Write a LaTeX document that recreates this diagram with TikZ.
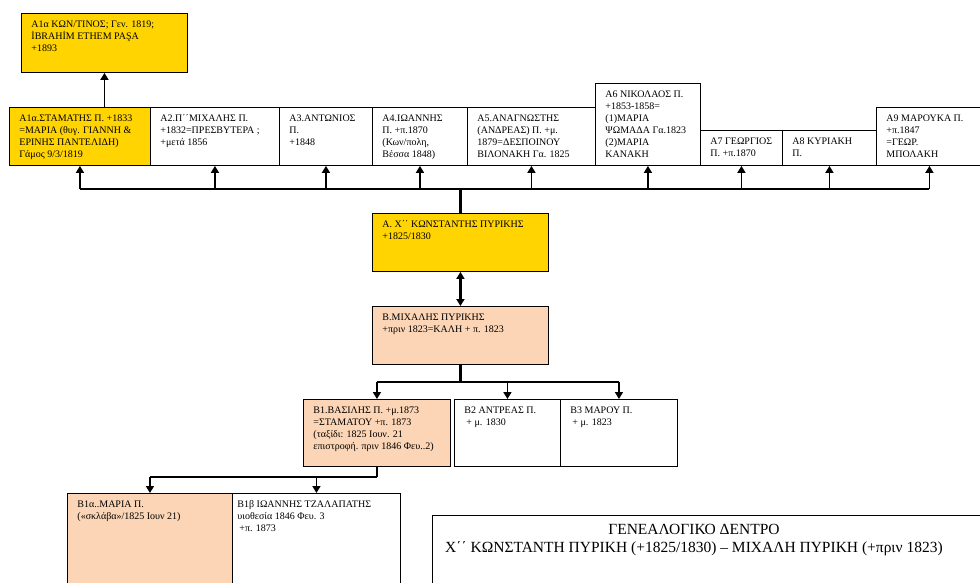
\documentclass[tikz,border=0pt]{standalone}
\usepackage{fontspec}
\setmainfont{Liberation Serif}
\usetikzlibrary{arrows.meta}

\definecolor{famgold}{RGB}{255,212,0}
\definecolor{fampeach}{RGB}{251,213,181}

% text of a box: [pad]{width}{height}{lines}
\newcommand{\famtext}[4][10]{\parbox[t][#3pt][t]{\dimexpr#2pt-#1pt-#1pt\relax}{\raggedright\rule{0pt}{14pt}#4}}

\begin{document}
\begin{tikzpicture}[x=1pt, y=-1pt,
	famcell/.style={draw, line width=0.9pt, inner xsep=10pt, inner ysep=0pt, anchor=north west, font=\fontsize{10}{12}\selectfont},
	gold/.style={fill=famgold},
	peach/.style={fill=fampeach},
	conn/.style={line width=1.6pt},
	stem/.style={line width=2.4pt},
	arr/.style={conn, -{Triangle[length=7pt,width=8pt]}},
	dbl/.style={stem, {Triangle[length=7pt,width=8pt]}-{Triangle[length=7pt,width=8pt]}}]

	\useasboundingbox (0,0) rectangle (980,583);
	\clip (0,0) rectangle (980,583);

	% Nodes
	\node[famcell, gold] (a1alpha) at (21,13) {\famtext{166}{59}{Α1α ΚΩΝ/ΤΙΝΟΣ; Γεν. 1819;\\ İBRAHİM ETHEM PAŞA\\ +1893}};

	\node[famcell, gold] (a1a) at (9,107) {\famtext{141}{58}{Α1α.ΣΤΑΜΑΤΗΣ Π. +1833\\ =ΜΑΡΙΑ (θυγ. ΓΙΑΝΝΗ \&\\ ΕΡΙΝΗΣ ΠΑΝΤΕΛΙΔΗ)\\ Γάμος 9/3/1819}};
	\node[famcell] (a2) at (150,107) {\famtext{129}{58}{Α2.Π΄΄ΜΙΧΑΛΗΣ Π.\\ +1832=ΠΡΕΣΒΥΤΕΡΑ ;\\ +μετά 1856}};
	\node[famcell] (a3) at (279,107) {\famtext{93}{58}{Α3.ΑΝΤΩΝΙΟΣ\\ Π.\\ +1848}};
	\node[famcell] (a4) at (372,107) {\famtext{95}{58}{Α4.ΙΩΑΝΝΗΣ\\ Π. +π.1870\\ (Κων/πολη,\\ Βέσσα 1848)}};
	\node[famcell] (a5) at (467,107) {\famtext{128}{58}{Α5.ΑΝΑΓΝΩΣΤΗΣ\\ (ΑΝΔΡΕΑΣ) Π. +μ.\\ 1879=ΔΕΣΠΟΙΝΟΥ\\ ΒΙΛΟΝΑΚΗ Γα. 1825}};
	\node[famcell] (a6) at (595,83) {\famtext{105}{82}{Α6 ΝΙΚΟΛΑΟΣ Π.\\ +1853-1858=\\ (1)ΜΑΡΙΑ\\ ΨΩΜΑΔΑ Γα.1823\\ (2)ΜΑΡΙΑ\\ ΚΑΝΑΚΗ}};
	\node[famcell] (a7) at (700,130) {\famtext{82}{35}{Α7 ΓΕΩΡΓΙΟΣ\\ Π. +π.1870}};
	\node[famcell] (a8) at (782,130) {\famtext{94}{35}{Α8 ΚΥΡΙΑΚΗ\\ Π.}};
	\node[famcell] (a9) at (876,107) {\famtext{106}{58}{Α9 ΜΑΡΟΥΚΑ Π.\\ +π.1847\\ =ΓΕΩΡ.\\ ΜΠΟΛΑΚΗ}};

	\node[famcell, gold] (a) at (372,213) {\famtext{176}{58}{Α. Χ΄΄ ΚΩΝΣΤΑΝΤΗΣ ΠΥΡΙΚΗΣ\\ +1825/1830}};
	\node[famcell, peach] (b) at (372,306) {\famtext{176}{58}{Β.ΜΙΧΑΛΗΣ ΠΥΡΙΚΗΣ\\ +πριν 1823=ΚΑΛΗ + π. 1823}};

	\node[famcell, peach] (b1) at (303,399) {\famtext[12]{151}{67}{Β1.ΒΑΣΙΛΗΣ Π. +μ.1873\\ =ΣΤΑΜΑΤΟΥ +π. 1873\\ (ταξίδι: 1825 Ιουν. 21\\ επιστροφή. πριν 1846 Φευ..2)}};
	\node[famcell] (b2) at (454,399) {\famtext{106}{67}{Β2 ΑΝΤΡΕΑΣ Π.\\ \hspace{2pt}+ μ. 1830}};
	\node[famcell] (b3) at (560,399) {\famtext{117}{67}{Β3 ΜΑΡΟΥ Π.\\ \hspace{2pt}+ μ. 1823}};

	\node[famcell, peach] (b1alpha) at (67,493) {\famtext{165}{110}{Β1α..ΜΑΡΙΑ Π.\\ («σκλάβα»/1825 Ιουν 21)}};
	\node[famcell, inner xsep=5pt] (b1beta) at (232,493) {\famtext[5]{168}{110}{Β1β ΙΩΑΝΝΗΣ ΤΖΑΛΑΠΑΤΗΣ\\ υιοθεσία 1846 Φευ. 3\\ \hspace{2pt}+π. 1873}};

	\node[famcell, minimum width=560, minimum height=90] (titlebox) at (432,515) {};
	\node[align=center, anchor=north, inner sep=0pt, font=\fontsize{15.5}{18}\selectfont] (title) at (694,524) {ΓΕΝΕΑΛΟΓΙΚΟ ΔΕΝΤΡΟ\\ Χ΄΄ ΚΩΝΣΤΑΝΤΗ ΠΥΡΙΚΗ (+1825/1830) – ΜΙΧΑΛΗ ΠΥΡΙΚΗ (+πριν 1823)};

	% Edges
	\coordinate (busa) at (0,189);
	\coordinate (busb) at (0,382);
	\coordinate (busc) at (0,477);

	\draw[arr] (a1alpha.south |- a1a.north) -- (a1alpha.south);

	\draw[stem] (a.north) -- (a.north |- busa);
	\draw[conn] (a1a.south |- busa) -- (a9.south |- busa);
	\foreach \n in {a1a,a2,a3,a4,a5,a6,a7,a8,a9}
		\draw[arr] (\n.south |- busa) -- (\n.south);

	\draw[dbl] (a.south) -- (b.north);

	\draw[stem] (b.south) -- (b.south |- busb);
	\draw[conn] (b1.north |- busb) -- (b3.north |- busb);
	\foreach \n in {b1,b2,b3}
		\draw[arr] (\n.north |- busb) -- (\n.north);

	\draw[stem] (b1.south) -- (b1.south |- busc);
	\draw[conn] (b1alpha.north |- busc) -- (b1.south |- busc);
	\foreach \n in {b1alpha,b1beta}
		\draw[arr] (\n.north |- busc) -- (\n.north);

\end{tikzpicture}
\end{document}
